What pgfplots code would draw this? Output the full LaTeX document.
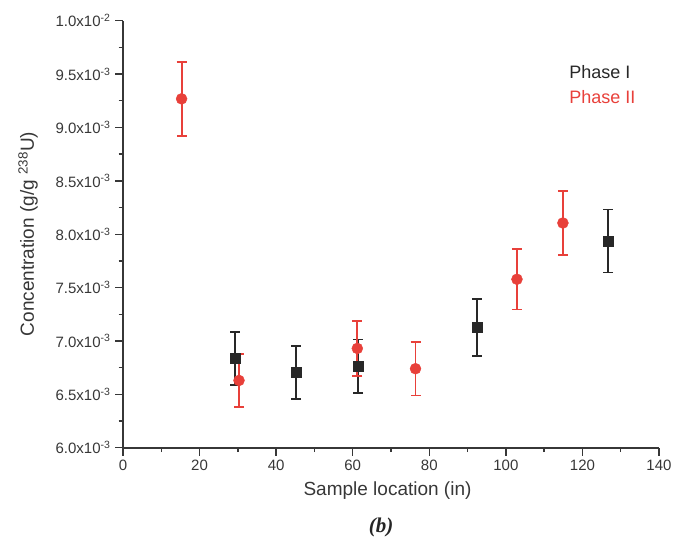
\documentclass[border=0pt]{standalone}
\usepackage{pgfplots}
\pgfplotsset{compat=1.18}
\usepackage{fontspec}
\setmainfont{Liberation Sans}
\newfontfamily\serifbi{Liberation Serif}
\definecolor{phaseI}{RGB}{40,40,40}
\definecolor{phaseII}{RGB}{232,64,58}
\definecolor{axisgray}{RGB}{55,55,55}
\begin{document}
\begin{tikzpicture}
\begin{axis}[
  scale only axis,
  width=536pt, height=427pt,
  xmin=0, xmax=140, ymin=6e-3, ymax=1e-2,
  scaled y ticks=false,
  axis lines=left,
  axis line style={-, line width=1.6pt, axisgray},
  every tick/.style={line width=1.4pt, axisgray},
  tick align=outside,
  major tick length=8pt, minor tick length=4.5pt,
  xtick={0,20,...,140},
  minor x tick num=1,
  ytick={0.006,0.0065,0.007,0.0075,0.008,0.0085,0.009,0.0095,0.01},
  yticklabels={6.0x10\textsuperscript{-3},6.5x10\textsuperscript{-3},7.0x10\textsuperscript{-3},7.5x10\textsuperscript{-3},8.0x10\textsuperscript{-3},8.5x10\textsuperscript{-3},9.0x10\textsuperscript{-3},9.5x10\textsuperscript{-3},1.0x10\textsuperscript{-2}},
  minor y tick num=1,
  /pgf/number format/assume math mode=true,
  ticklabel style={font=\fontsize{15}{17}\selectfont, text=axisgray},
  xticklabel style={yshift=-1pt},
  yticklabel style={xshift=-1pt},
]
\addplot[only marks, mark=square*, mark size=5pt, color=phaseI,
  error bars/.cd, y dir=both, y explicit,
  error bar style={line width=1.9pt, color=phaseI},
  error mark options={rotate=90, mark size=5pt, line width=1.7pt, color=phaseI}]
  coordinates {
    (29.3,0.006836) +- (0,0.000251)
    (45.2,0.006705) +- (0,0.000249)
    (61.4,0.006763) +- (0,0.000250)
    (92.4,0.007125) +- (0,0.000265)
    (126.7,0.007935) +- (0,0.000295)
  };
\addplot[only marks, mark=*, mark size=5.5pt, color=phaseII,
  error bars/.cd, y dir=both, y explicit,
  error bar style={line width=1.9pt, color=phaseII},
  error mark options={rotate=90, mark size=5pt, line width=1.7pt, color=phaseII}]
  coordinates {
    (15.3,0.009268) +- (0,0.000345)
    (30.3,0.006630) +- (0,0.000250)
    (61.2,0.006930) +- (0,0.000257)
    (76.4,0.006740) +- (0,0.000250)
    (102.9,0.007578) +- (0,0.000283)
    (114.9,0.008105) +- (0,0.000300)
  };
\node[anchor=west, font=\fontsize{18}{20}\selectfont, text=phaseI] at (rel axis cs:0.826,0.880) {Phase I};
\node[anchor=west, font=\fontsize{18}{20}\selectfont, text=phaseII] at (rel axis cs:0.826,0.821) {Phase II};
\end{axis}
\node[font=\fontsize{19}{22}\selectfont, text=axisgray] at (264.5pt,-43.3pt) {Sample location (in)};
\node[font=\fontsize{19}{22}\selectfont, text=axisgray, rotate=90] at (-95pt,213.7pt) {Concentration (g/g \textsuperscript{238}U)};
\node[font=\serifbi\bfseries\itshape\fontsize{21}{23}\selectfont, text=black!85] at (258pt,-79.3pt) {(b)};
\path (-123pt,-96.3pt) rectangle (557pt,447.7pt);
\end{tikzpicture}
\end{document}
